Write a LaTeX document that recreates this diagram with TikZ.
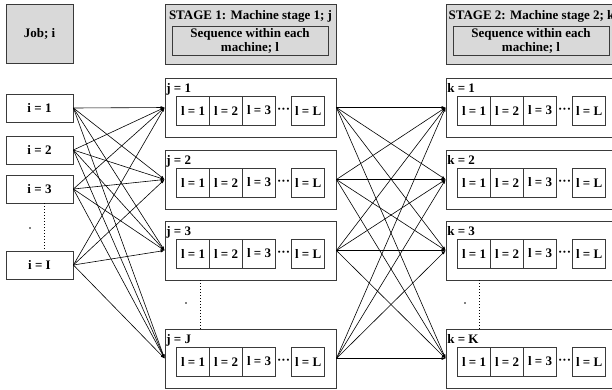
\documentclass[tikz,border=0pt]{standalone}
\usepackage{fontspec}
\setmainfont{Liberation Serif}
\usetikzlibrary{arrows.meta,calc}

\definecolor{boxgray}{HTML}{D9D9D9}
\definecolor{edgegray}{HTML}{3A3A3A}

\tikzset{
  graybox/.style={draw=edgegray, fill=boxgray, line width=0.8pt, inner sep=0pt},
  jobbox/.style={draw=edgegray, line width=0.8pt, minimum width=67pt, minimum height=28pt, inner sep=0pt},
  machbox/.style={draw=edgegray, line width=0.8pt, minimum width=171pt, minimum height=59pt, inner sep=0pt},
  seqbox/.style={draw=edgegray, line width=0.8pt, minimum width=33pt, minimum height=29pt, inner sep=0pt, outer sep=0pt},
  link/.style={line width=0.6pt, -{Latex[length=4pt,width=3pt]}},
}

\begin{document}
\begin{tikzpicture}[x=1pt, y=-1pt, font=\fontsize{13}{14}\selectfont\bfseries]
\useasboundingbox (0,0) rectangle (612,389);
\clip (0,0) rectangle (612,389);

% headers
\node[graybox, minimum width=67pt, minimum height=59pt] (job) at (39.5,33.5) {Job; i};
\node[graybox, minimum width=171pt, minimum height=60pt] (stage1) at (250.5,34) {};
\node[anchor=base] (stage1t) at ([yshift=-15.5pt]stage1.north) {STAGE 1: Machine stage 1; j};
\node[graybox, minimum width=156pt, minimum height=29pt, align=center] (seq1) at (250,40.5) {Sequence within each\\machine; l};
\node[graybox, minimum width=171pt, minimum height=60pt] (stage2) at (531.5,34) {};
\node[anchor=base] (stage2t) at ([yshift=-15.5pt]stage2.north) {STAGE 2: Machine stage 2; k};
\node[graybox, minimum width=156pt, minimum height=29pt, align=center] (seq2) at (531,40.5) {Sequence within each\\machine; l};

% jobs
\foreach \n/\y in {1/108, 2/150, 3/189, I/265}
  \node[jobbox] (i\n) at (39.5,\y) {i = \n};

% machines, stage 1 and stage 2
\foreach \s/\x in {j/250.5, k/531.5}{
  \foreach \n/\y in {1/107.5, 2/179.5, 3/250.5, 4/358.5}{
    \node[machbox] (\s\n) at (\x,\y) {};
    \node[seqbox, anchor=west] (\s\n-l1) at ([xshift=12pt,yshift=-3pt]\s\n.west) {l = 1};
    \node[seqbox, anchor=west] (\s\n-l2) at (\s\n-l1.east) {l = 2};
    \node[seqbox, anchor=west] (\s\n-l3) at (\s\n-l2.east) {l = 3};
    \node[seqbox, anchor=west] (\s\n-lL) at ([xshift=127pt,yshift=-3pt]\s\n.west) {l = L};
    \node[inner sep=0pt] (\s\n-dots) at ($(\s\n-l3.east)!0.5!(\s\n-lL.west)$) {···};
  }
}
\foreach \s/\n/\lab in {j/1/1, j/2/2, j/3/3, j/4/J, k/1/1, k/2/2, k/3/3, k/4/K}
  \node[anchor=base west, inner sep=0pt] (\s\n-name) at ([xshift=1.5pt,yshift=-14.5pt]\s\n.north west) {\s{} = \lab};

% connectors
\foreach \a in {1,2,3,I}
  \foreach \b in {1,2,3,4}
    \draw[link] (i\a.east) -- (j\b.west);
\foreach \a in {1,2,3,4}
  \foreach \b in {1,2,3,4}
    \draw[link] (j\a.east) -- (k\b.west);

% omitted rows
\draw[dotted, line width=1pt] ([xshift=4.5pt]i3.south) -- ([xshift=4.5pt]iI.north);
\draw[dotted, line width=1pt] ([xshift=36pt]j3.south west) -- ([xshift=36pt]j4.north west);
\draw[dotted, line width=1pt] ([xshift=34pt]k3.south west) -- ([xshift=34pt]k4.north west);
\fill (30,228) circle (0.8pt);
\fill (186,303) circle (0.8pt);
\fill (465,303) circle (0.8pt);
\end{tikzpicture}
\end{document}
